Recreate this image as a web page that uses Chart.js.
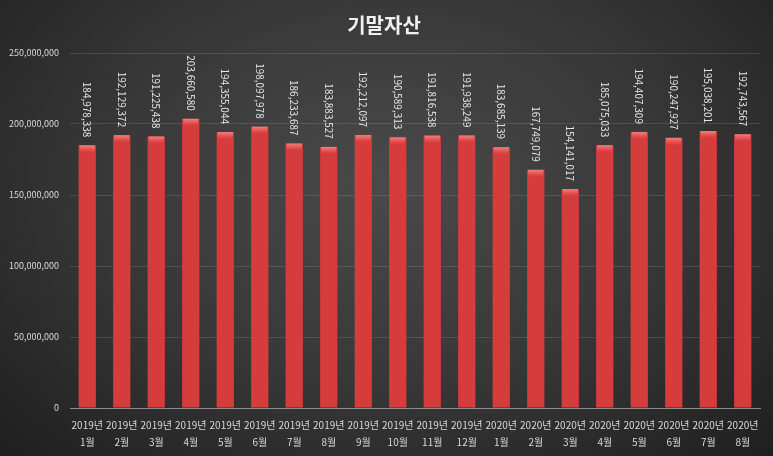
<!DOCTYPE html>
<html lang="ko">
<head>
<meta charset="utf-8">
<title>기말자산</title>
<script src="https://cdn.jsdelivr.net/npm/chart.js@4/dist/chart.umd.min.js"></script>
<style>
  html, body { margin: 0; padding: 0; }
  body {
    width: 773px; height: 456px; overflow: hidden;
    background: radial-gradient(ellipse at 50% 40%, #4a4a4a 0%, #383838 50%, #1f1f1f 100%);
  }
  #wrap { position: relative; width: 773px; height: 456px; }
</style>
</head>
<body>
<div id="wrap"><canvas id="assetChart" width="773" height="456"></canvas></div>
<script>
// chart data
const years  = ['2019', '2019', '2019', '2019', '2019', '2019', '2019', '2019', '2019', '2019',
                '2019', '2019', '2020', '2020', '2020', '2020', '2020', '2020', '2020', '2020'];
const months = ['1', '2', '3', '4', '5', '6', '7', '8', '9', '10',
                '11', '12', '1', '2', '3', '4', '5', '6', '7', '8'];
const endAssets = [
  184978338, 192129372, 191225438, 203660580, 194355044, 198097978, 186233687, 183883527,
  192212097, 190589313, 191816538, 191938249, 183685139, 167749079, 154141017, 185075033,
  194407309, 190247927, 195038201, 192743567,
];
const yTicks = [0, 50000000, 100000000, 150000000, 200000000, 250000000];

const FONT = '"Noto Sans CJK KR", "DejaVu Sans", sans-serif';
const fmt = (v) => v.toLocaleString('en-US');

// rotated value labels + bevel highlight on bar tops
const barDecor = {
  id: 'barDecor',
  afterDatasetsDraw(chart) {
    const ctx = chart.ctx;
    const meta = chart.getDatasetMeta(0);
    meta.data.forEach((bar, i) => {
      const w = bar.width;
      const left = bar.x - w / 2;
      ctx.save();
      const hi = ctx.createLinearGradient(0, bar.y, 0, bar.y + 7);
      hi.addColorStop(0, 'rgba(255,150,150,0.75)');
      hi.addColorStop(1, 'rgba(255,120,120,0)');
      ctx.fillStyle = hi;
      ctx.fillRect(left + 1, bar.y, w - 2, 7);
      ctx.restore();

      ctx.save();
      ctx.translate(bar.x, bar.y - 8);
      ctx.rotate(Math.PI / 2);
      ctx.font = '10px ' + FONT;
      ctx.fillStyle = '#e6e6e6';
      ctx.textAlign = 'right';
      ctx.textBaseline = 'middle';
      ctx.fillText(fmt(endAssets[i]), 0, 0);
      ctx.restore();
    });
  },
};

function barFill(context) {
  const { chart } = context;
  const el = context.element;
  if (!el || !chart.chartArea || !Number.isFinite(el.x) || !Number.isFinite(el.width)) return '#d63c3c';
  const w = el.width;
  const g = chart.ctx.createLinearGradient(el.x - w / 2, 0, el.x + w / 2, 0);
  g.addColorStop(0, '#a02828');
  g.addColorStop(0.15, '#d23a3a');
  g.addColorStop(0.5, '#da4242');
  g.addColorStop(0.85, '#d23a3a');
  g.addColorStop(1, '#a02828');
  return g;
}

new Chart(document.getElementById('assetChart'), {
  type: 'bar',
  data: {
    labels: years.map((y, i) => [y + '년', months[i] + '월']),
    datasets: [{
      label: '기말자산',
      data: endAssets,
      backgroundColor: barFill,
      borderWidth: 0,
      barPercentage: 0.5,
      categoryPercentage: 1,
    }],
  },
  options: {
    responsive: false,
    animation: false,
    devicePixelRatio: 1,
    layout: { padding: { top: 8, right: 13, left: 8, bottom: 5 } },
    plugins: {
      legend: { display: false },
      tooltip: { enabled: false },
      title: {
        display: true,
        text: '기말자산',
        color: '#f0f0f0',
        font: { family: FONT, size: 20, weight: 'bold' },
        padding: { top: 5, bottom: 16 },
      },
    },
    scales: {
      x: {
        grid: { display: false },
        border: { display: true, color: '#8c8c8c', width: 1 },
        ticks: {
          color: '#d9d9d9',
          font: { family: FONT, size: 10, lineHeight: 1.75 },
          maxRotation: 0,
          autoSkip: false,
          padding: 0,
        },
      },
      y: {
        min: 0,
        max: 250000000,
        afterBuildTicks: (axis) => { axis.ticks = yTicks.map((v) => ({ value: v })); },
        afterFit: (axis) => { axis.width = 62; },
        grid: { color: 'rgba(255,255,255,0.12)', drawTicks: false },
        border: { display: false },
        ticks: {
          color: '#d9d9d9',
          font: { family: FONT, size: 9 },
          padding: 11,
          callback: (v) => fmt(v),
        },
      },
    },
  },
  plugins: [barDecor],
});
</script>
</body>
</html>
